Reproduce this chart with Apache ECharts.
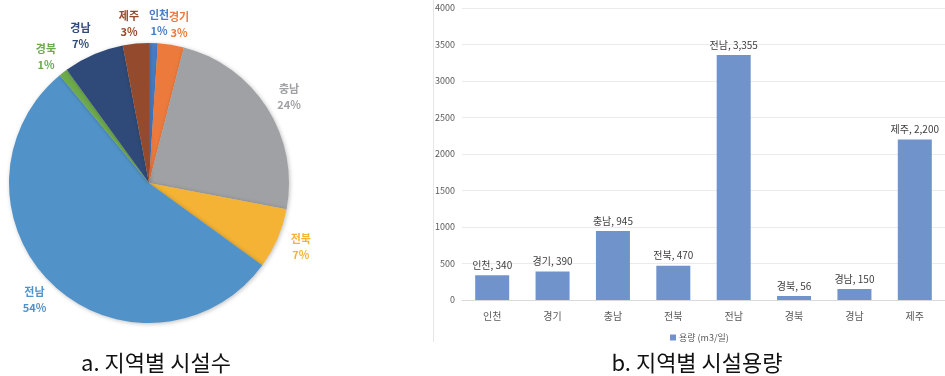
<!DOCTYPE html>
<html>
<head>
<meta charset="utf-8">
<script src="https://cdn.jsdelivr.net/npm/echarts@6/dist/echarts.min.js"></script>
<style>
html,body{margin:0;padding:0;background:#fff;}
#c{width:945px;height:376px;}
</style>
</head>
<body>
<div id="c"></div>
<script>
// Pie: share of facilities by region (%)
const pieRegions = ['인천', '경기', '충남', '전북', '전남', '경북', '경남', '제주'];
const pieValues = [1, 3, 24, 7, 54, 1, 7, 3];
const pieColors = ['#4A7DC4', '#EC7A3D', '#A0A1A4', '#F4B334', '#5193C9', '#6DAA4B', '#2F4A78', '#944A2D'];

// Bar: capacity by region (m3/day)
const barRegions = ['인천', '경기', '충남', '전북', '전남', '경북', '경남', '제주'];
const barValues = [340, 390, 945, 470, 3355, 56, 150, 2200];
const yTicks = [0, 500, 1000, 1500, 2000, 2500, 3000, 3500, 4000];
const legendName = '용량 (m3/일)';

const FONT = '"Noto Sans CJK KR", "Noto Sans", sans-serif';
const chart = echarts.init(document.getElementById('c'), null, {renderer: 'canvas'});

const pieData = pieRegions.map((n, i) => ({
  name: n, value: pieValues[i],
  itemStyle: {color: pieColors[i]},
  label: {color: pieColors[i]}
}));

chart.setOption({
  animation: false,
  textStyle: {fontFamily: FONT},
  title: [
    {text: 'a. 지역별 시설수', left: 151, top: 347, textAlign: 'center',
     textStyle: {fontFamily: FONT, fontSize: 22, fontWeight: 'normal', color: '#111'}},
    {text: 'b. 지역별 시설용량', left: 692, top: 347, textAlign: 'center',
     textStyle: {fontFamily: FONT, fontSize: 22, fontWeight: 'normal', color: '#111'}}
  ],
  legend: {
    data: [legendName], left: 665, top: 328, itemWidth: 6, itemHeight: 6, itemGap: 4,
    icon: 'rect',
    textStyle: {fontFamily: FONT, fontSize: 9, color: '#595959', padding: [0, 0, 0, -2]}
  },
  grid: {left: 462, right: -6, top: 8, bottom: 76},
  xAxis: {
    type: 'category', data: barRegions,
    axisLine: {lineStyle: {color: '#D9D9D9', width: 1}},
    axisTick: {show: false},
    axisLabel: {color: '#595959', fontSize: 10, margin: 11, fontFamily: FONT}
  },
  yAxis: {
    type: 'value', min: yTicks[0], max: yTicks[yTicks.length - 1], interval: 500,
    axisLine: {show: false}, axisTick: {show: false},
    splitLine: {lineStyle: {color: '#EBEBEB', width: 1}},
    axisLabel: {color: '#595959', fontSize: 9, margin: 7, fontFamily: FONT, formatter: v => String(v)}
  },
  series: [
    {
      type: 'pie', center: [149, 183], radius: 140, startAngle: 90, clockwise: true,
      avoidLabelOverlap: false,
      data: pieData,
      itemStyle: {shadowBlur: 4, shadowColor: 'rgba(0,0,0,0.25)', shadowOffsetX: 1, shadowOffsetY: 1},
      label: {
        show: true, position: 'outside', formatter: '{b}\n{d}%',
        fontFamily: FONT, fontSize: 11, fontWeight: 'bold', lineHeight: 16
      },
      labelLine: {show: false, length: 20, length2: 0},
      labelLayout: {hideOverlap: false, moveOverlap: null, align: 'center'}
    },
    {
      type: 'bar', name: legendName, data: barValues, barWidth: 34,
      itemStyle: {color: '#7093CB'},
      label: {
        show: true, position: 'top', distance: 5, color: '#404040', fontSize: 10, fontFamily: FONT,
        formatter: p => p.name + ', ' + p.value.toLocaleString('en-US')
      }
    }
  ],
  graphic: [
    {type: 'line', shape: {x1: 433.5, y1: 0, x2: 433.5, y2: 342}, style: {stroke: '#E6E6E6', lineWidth: 1}}
  ]
});
</script>
</body>
</html>
